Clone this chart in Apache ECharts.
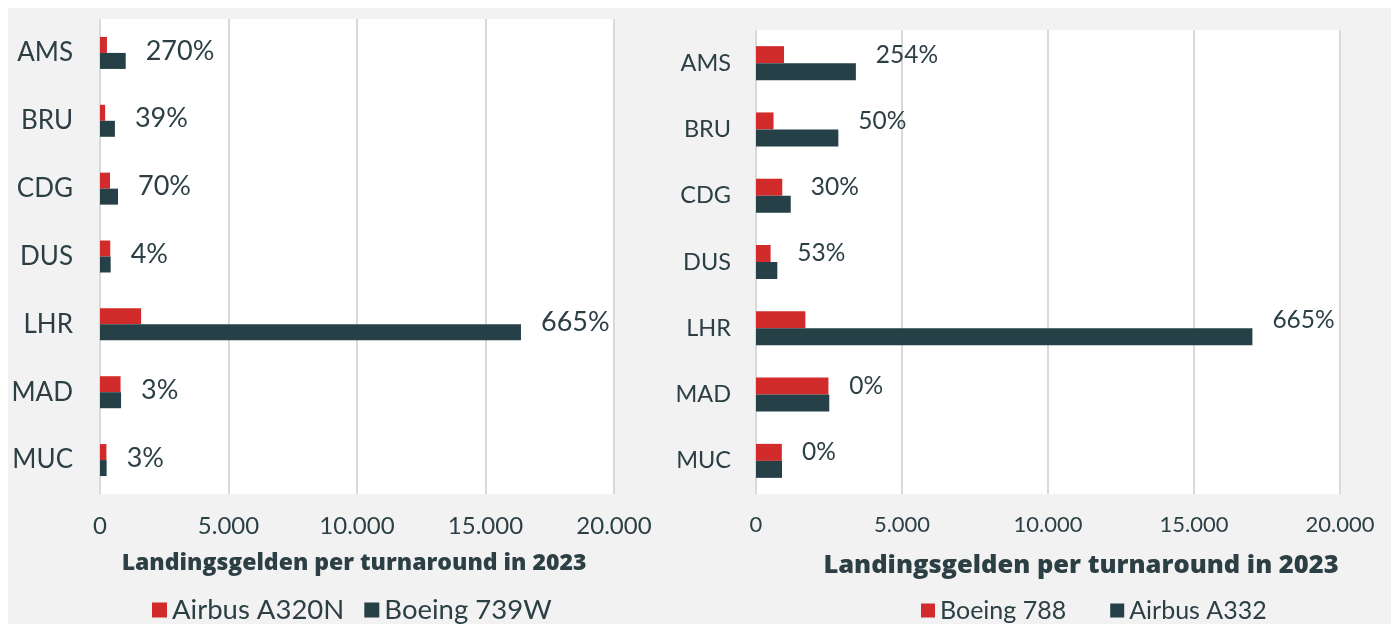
<!DOCTYPE html>
<html>
<head>
<meta charset="utf-8">
<title>Landingsgelden per turnaround in 2023</title>
<script src="https://cdn.jsdelivr.net/npm/echarts@6/dist/echarts.min.js"></script>
<style>
  html, body { margin: 0; padding: 0; background: #fff; }
  #main { width: 1397px; height: 624px; }
</style>
</head>
<body>
<div id="main"></div>
<script>
// airports, shared by both panels
var airports = ['AMS', 'BRU', 'CDG', 'DUS', 'LHR', 'MAD', 'MUC'];
var xTicks = [0, 5000, 10000, 15000, 20000];

// left panel: narrow body
var a320n = [270, 200, 390, 400, 1600, 800, 250];
var b739w = [1000, 580, 700, 415, 16380, 820, 258];
var leftPct = ['270%', '39%', '70%', '4%', '665%', '3%', '3%'];

// right panel: wide body
var b788 = [960, 600, 900, 500, 1690, 2480, 885];
var a332 = [3420, 2820, 1190, 730, 17000, 2510, 890];
var rightPct = ['254%', '50%', '30%', '53%', '665%', '0%', '0%'];

var RED = '#d22b2b';
var DARK = '#254047';
var TXT = '#2b3f45';
var FONT = 'Lato, "Open Sans", sans-serif';
var BOLD = '"Open Sans", Lato, sans-serif';

var chart = echarts.init(document.getElementById('main'));

function fmtThousand(v) {
  return v === 0 ? '0' : (v / 1000).toFixed(0) + '.000';
}

function xAx(idx) {
  return {
    gridIndex: idx,
    type: 'value',
    min: 0, max: 20000, interval: 5000,
    axisLine: { show: false },
    axisTick: { show: false },
    splitLine: { lineStyle: { color: '#d9d9d9', width: 2 } },
    axisLabel: { color: TXT, fontFamily: FONT, fontSize: idx ? 22 : 24, margin: 20, formatter: fmtThousand }
  };
}

function yAx(idx) {
  return {
    gridIndex: idx,
    type: 'category',
    inverse: true,
    data: airports,
    axisLine: { show: false },
    axisTick: { show: false },
    axisLabel: { color: TXT, fontFamily: FONT, fontSize: idx ? 23.5 : 26, margin: idx ? 25 : 27 }
  };
}

function pctLabel(arr, dy, size) {
  return {
    show: true,
    position: 'right',
    distance: 20,
    offset: [0, dy],
    color: TXT,
    fontFamily: FONT,
    fontSize: size,
    formatter: function (p) { return arr[p.dataIndex]; }
  };
}

var option = {
  animation: false,
  graphic: [{
    type: 'rect', z: -10, silent: true,
    shape: { x: 8, y: 8, width: 1383, height: 616 },
    style: { fill: '#f2f2f2' }
  }],
  grid: [
    { left: 100, top: 19, width: 514, height: 475, show: true, backgroundColor: '#fff', borderWidth: 0 },
    { left: 756, top: 30, width: 584, height: 464, show: true, backgroundColor: '#fff', borderWidth: 0 }
  ],
  title: [
    { text: 'Landingsgelden per turnaround in 2023', left: 349, top: 547, textAlign: 'center',
      textStyle: { color: TXT, fontFamily: BOLD, fontWeight: 800, fontSize: 23 } },
    { text: 'Landingsgelden per turnaround in 2023', left: 1076, top: 548, textAlign: 'center',
      textStyle: { color: TXT, fontFamily: BOLD, fontWeight: 800, fontSize: 25.5 } }
  ],
  legend: [
    { data: ['Airbus A320N', 'Boeing 739W'], left: 152, top: 596, padding: 0, icon: 'rect',
      itemWidth: 15, itemHeight: 15, itemGap: 20, itemTextGap: 5,
      textStyle: { color: TXT, fontFamily: FONT, fontSize: 27.5 } },
    { data: ['Boeing 788', 'Airbus A332'], left: 921, top: 598, padding: 0, icon: 'rect',
      itemWidth: 14, itemHeight: 14, itemGap: 44, itemTextGap: 5,
      textStyle: { color: TXT, fontFamily: FONT, fontSize: 25 } }
  ],
  xAxis: [xAx(0), xAx(1)],
  yAxis: [yAx(0), yAx(1)],
  series: [
    { name: 'Airbus A320N', type: 'bar', xAxisIndex: 0, yAxisIndex: 0, data: a320n,
      barWidth: 16, barGap: '0%', itemStyle: { color: RED } },
    { name: 'Boeing 739W', type: 'bar', xAxisIndex: 0, yAxisIndex: 0, data: b739w,
      barWidth: 16, barGap: '0%', itemStyle: { color: DARK }, label: pctLabel(leftPct, -10, 27) },
    { name: 'Boeing 788', type: 'bar', xAxisIndex: 1, yAxisIndex: 1, data: b788,
      barWidth: 17, barGap: '0%', itemStyle: { color: RED } },
    { name: 'Airbus A332', type: 'bar', xAxisIndex: 1, yAxisIndex: 1, data: a332,
      barWidth: 17, barGap: '0%', itemStyle: { color: DARK }, label: pctLabel(rightPct, -17, 24.5) }
  ]
};

chart.setOption(option);
</script>
</body>
</html>
